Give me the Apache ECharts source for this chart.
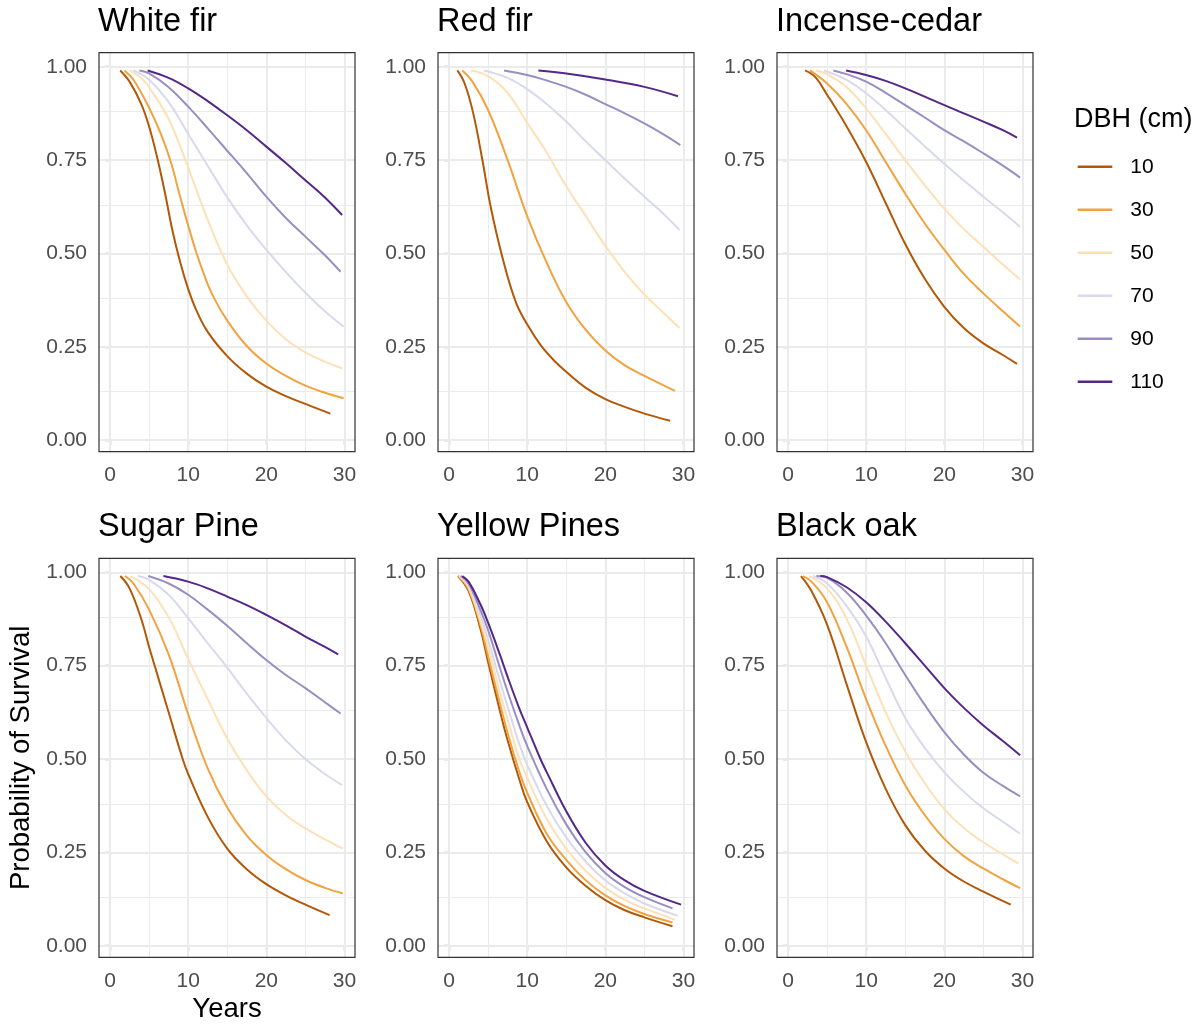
<!DOCTYPE html>
<html><head><meta charset="utf-8">
<script src="https://cdn.jsdelivr.net/npm/echarts@6/dist/echarts.min.js"></script>
<style>html,body{margin:0;padding:0;background:#fff}#c{width:1199px;height:1025px}</style>
</head><body><div id="c"></div>
<script>
// ---------------- data ----------------
const species = ['White fir', 'Red fir', 'Incense-cedar', 'Sugar Pine', 'Yellow Pines', 'Black oak'];
const dbhLabels = ['10', '30', '50', '70', '90', '110'];
const palette = ['#b35806', '#f1a340', '#fee0b6', '#d8daeb', '#998ec3', '#542788'];
const xTicks = [0, 10, 20, 30];
const yTicks = [0, 0.25, 0.5, 0.75, 1];
const xMinor = [5, 15, 25];
const yMinor = [0.125, 0.375, 0.625, 0.875];

// White fir  [years, survival]
const wf10 = [[1.3,0.99],[2.5,0.96],[4,0.90],[5,0.84],[6,0.76],[7,0.665],[8,0.56],[9,0.475],[10,0.405],[11,0.35],[12.5,0.29],[15,0.225],[17.5,0.178],[20,0.143],[22.5,0.118],[25,0.097],[28.2,0.071]];
const wf30 = [[1.85,0.99],[3,0.965],[5,0.89],[6.5,0.82],[7.7,0.75],[9,0.65],[10,0.575],[11,0.505],[12,0.445],[13.2,0.385],[15,0.32],[17.5,0.252],[20,0.205],[22.5,0.172],[25,0.146],[27.5,0.127],[29.9,0.112]];
const wf50 = [[2.55,0.99],[4,0.97],[5,0.945],[7.5,0.86],[10,0.73],[12.5,0.59],[15,0.47],[17.5,0.385],[20,0.32],[22.5,0.27],[25,0.235],[27.5,0.21],[29.7,0.192]];
const wf70 = [[3,0.99],[5,0.965],[7.5,0.905],[10,0.82],[12.5,0.735],[15,0.65],[17.5,0.575],[20,0.51],[22.5,0.45],[25,0.395],[27.5,0.345],[29.9,0.304]];
const wf90 = [[3.76,0.99],[5,0.982],[7.5,0.945],[10,0.893],[12.5,0.835],[15,0.775],[17.5,0.715],[20,0.652],[22.5,0.595],[25,0.545],[27.5,0.495],[29.5,0.451]];
const wf110 = [[4.82,0.99],[7.5,0.97],[10,0.942],[12.5,0.908],[15,0.87],[17.5,0.83],[20,0.786],[22.5,0.742],[25,0.696],[27.5,0.65],[29.7,0.603]];

// Red fir
const rf10 = [[1.07,0.99],[2,0.955],[3.1,0.875],[4.27,0.75],[5.33,0.625],[6.83,0.49],[8.54,0.37],[10,0.31],[11.7,0.255],[13.5,0.212],[15,0.183],[17.5,0.14],[20,0.11],[22.5,0.089],[25,0.071],[28.3,0.052]];
const rf30 = [[1.7,0.99],[3,0.96],[5,0.884],[7.5,0.75],[10,0.60],[12.5,0.475],[15,0.37],[17.5,0.295],[20,0.24],[22.5,0.20],[25,0.172],[28.9,0.132]];
const rf50 = [[2.77,0.99],[5,0.975],[7.5,0.93],[10,0.85],[12.5,0.77],[15,0.68],[17.5,0.60],[20,0.52],[22.5,0.45],[25,0.39],[27.5,0.34],[29.5,0.30]];
const rf70 = [[4.48,0.99],[7.5,0.97],[10,0.94],[12.5,0.90],[15,0.853],[17.5,0.80],[20,0.75],[22.5,0.70],[25,0.652],[27.5,0.605],[29.5,0.5625]];
const rf90 = [[7.04,0.99],[10,0.978],[12.5,0.963],[15,0.946],[17.5,0.925],[20,0.90],[22.5,0.875],[25,0.848],[27.5,0.818],[29.6,0.79]];
const rf110 = [[11.44,0.99],[15,0.982],[20,0.966],[25,0.946],[29.3,0.921]];

// Incense-cedar
const ic10 = [[2.18,0.99],[3.5,0.972],[5,0.925],[7.5,0.84],[10,0.745],[12.5,0.635],[15,0.525],[17.5,0.432],[20,0.357],[22.5,0.30],[25,0.259],[27.5,0.228],[29.3,0.204]];
const ic30 = [[2.8,0.99],[5,0.955],[7.5,0.90],[10,0.83],[12.5,0.745],[15,0.66],[17.5,0.58],[20,0.51],[22.5,0.445],[25,0.393],[27.5,0.345],[29.7,0.304]];
const ic50 = [[3.6,0.99],[5,0.98],[7.5,0.945],[10,0.888],[12.5,0.82],[15,0.75],[17.5,0.683],[20,0.62],[22.5,0.565],[25,0.518],[27.5,0.47],[29.7,0.43]];
const ic70 = [[4.6,0.99],[7.5,0.965],[10,0.929],[12.5,0.884],[15,0.835],[17.5,0.787],[20,0.74],[22.5,0.695],[25,0.652],[27.5,0.61],[29.7,0.571]];
const ic90 = [[5.8,0.99],[7.5,0.98],[10,0.96],[12.5,0.93],[15,0.897],[17.5,0.864],[20,0.83],[22.5,0.80],[25,0.768],[27.5,0.735],[29.7,0.703]];
const ic110 = [[7.43,0.99],[10,0.978],[12.5,0.962],[15,0.942],[17.5,0.92],[20,0.897],[22.5,0.875],[25,0.853],[27.5,0.83],[29.3,0.81]];

// Sugar Pine
const sp10 = [[1.32,0.99],[2.5,0.957],[4,0.875],[5,0.80],[6,0.73],[7.5,0.625],[9.3,0.5],[10,0.46],[12.5,0.345],[15,0.26],[17.5,0.205],[20,0.165],[22.5,0.135],[25,0.11],[28.1,0.082]];
const sp30 = [[1.92,0.99],[3,0.97],[5,0.90],[7.5,0.78],[10,0.62],[12.5,0.475],[15,0.37],[17.5,0.295],[20,0.243],[22.5,0.205],[25,0.176],[27.5,0.155],[29.8,0.14]];
const sp50 = [[2.6,0.99],[5,0.955],[7.5,0.88],[10,0.768],[12.5,0.66],[15,0.555],[17.5,0.47],[20,0.40],[22.5,0.35],[25,0.314],[27.5,0.285],[29.8,0.26]];
const sp70 = [[3.54,0.99],[5,0.98],[7.5,0.94],[10,0.877],[12.5,0.81],[15,0.745],[17.5,0.675],[20,0.61],[22.5,0.55],[25,0.50],[27.5,0.46],[29.7,0.43]];
const sp90 = [[4.9,0.99],[7.5,0.97],[10,0.94],[12.5,0.90],[15,0.857],[17.5,0.81],[20,0.765],[22.5,0.725],[25,0.69],[27.5,0.652],[29.5,0.622]];
const sp110 = [[6.83,0.99],[10,0.975],[12.5,0.957],[15,0.935],[17.5,0.912],[20,0.886],[22.5,0.858],[25,0.828],[27.5,0.80],[29.2,0.78]];

// Yellow Pines
const yp10 = [[1.15,0.99],[2.5,0.95],[4,0.85],[5,0.76],[6.5,0.63],[7.5,0.55],[9,0.445],[10,0.385],[12.5,0.28],[15,0.21],[17.5,0.16],[20,0.122],[22.5,0.095],[25,0.076],[28.6,0.052]];
const yp30 = [[1.2,0.99],[2.5,0.955],[4,0.86],[5,0.775],[6.5,0.65],[7.5,0.57],[9,0.465],[10,0.41],[12.5,0.30],[15,0.23],[17.5,0.175],[20,0.135],[22.5,0.106],[25,0.085],[28.6,0.062]];
const yp50 = [[1.3,0.99],[2.5,0.96],[4,0.87],[5,0.80],[6.5,0.68],[7.5,0.605],[9,0.50],[10,0.45],[12.5,0.34],[15,0.26],[17.5,0.20],[20,0.155],[22.5,0.123],[25,0.10],[28.9,0.07]];
const yp70 = [[1.4,0.99],[2.5,0.965],[4,0.885],[5,0.82],[6.5,0.71],[7.5,0.64],[9,0.54],[10,0.485],[12.5,0.375],[15,0.29],[17.5,0.225],[20,0.175],[22.5,0.14],[25,0.113],[29.3,0.08]];
const yp90 = [[1.5,0.99],[2.5,0.97],[4,0.90],[5,0.845],[6.5,0.745],[7.5,0.68],[9,0.59],[10,0.535],[12.5,0.42],[15,0.325],[17.5,0.25],[20,0.195],[22.5,0.157],[25,0.13],[28.6,0.10]];
const yp110 = [[1.7,0.99],[2.5,0.975],[4,0.915],[5,0.865],[6.5,0.78],[7.5,0.72],[9,0.635],[10,0.585],[11.7,0.50],[12.5,0.465],[15,0.36],[17.5,0.275],[20,0.215],[22.5,0.175],[25,0.147],[29.7,0.11]];

// Black oak
const bo10 = [[1.66,0.99],[3,0.95],[5,0.86],[7.5,0.70],[10,0.545],[12.5,0.42],[15,0.323],[17.5,0.255],[20,0.207],[22.5,0.172],[25,0.145],[28.5,0.11]];
const bo30 = [[1.92,0.99],[3,0.975],[5,0.92],[7.5,0.80],[10,0.66],[12.5,0.535],[15,0.43],[17.5,0.35],[20,0.286],[22.5,0.24],[25,0.207],[27.5,0.178],[29.7,0.154]];
const bo50 = [[2.65,0.99],[5,0.957],[7.5,0.875],[10,0.75],[12.5,0.625],[15,0.52],[17.5,0.435],[20,0.366],[22.5,0.315],[25,0.277],[27.5,0.245],[29.5,0.22]];
const bo70 = [[3.2,0.99],[5,0.97],[7.5,0.91],[10,0.828],[12.5,0.717],[15,0.61],[17.5,0.53],[20,0.465],[22.5,0.412],[25,0.368],[27.5,0.332],[29.7,0.30]];
const bo90 = [[3.63,0.99],[5,0.985],[7.5,0.946],[10,0.884],[12.5,0.81],[15,0.725],[17.5,0.645],[20,0.572],[22.5,0.512],[25,0.463],[27.5,0.428],[29.7,0.40]];
const bo110 = [[4.14,0.99],[5,0.987],[7.5,0.96],[10,0.92],[12.5,0.868],[15,0.81],[17.5,0.75],[20,0.69],[22.5,0.637],[25,0.59],[27.5,0.548],[29.7,0.51]];

const panelCurves = [
  [wf10, wf30, wf50, wf70, wf90, wf110],
  [rf10, rf30, rf50, rf70, rf90, rf110],
  [ic10, ic30, ic50, ic70, ic90, ic110],
  [sp10, sp30, sp50, sp70, sp90, sp110],
  [yp10, yp30, yp50, yp70, yp90, yp110],
  [bo10, bo30, bo50, bo70, bo90, bo110]
];

// ---------------- layout ----------------
const FONT = '"Liberation Sans", Arial, Helvetica, sans-serif';
const colLeft = [99, 438, 777];
const rowTop = [52.7, 558.3];
const PW = 256, PH = 399;
const X_MIN = -1.41, X_MAX = 31.35;
const Y_MIN = -0.031, Y_MAX = 1.0375;

const grids = [], xAxes = [], yAxes = [], series = [], graphics = [];

species.forEach((sp, i) => {
  const c = i % 3, r = Math.floor(i / 3);
  grids.push({ left: colLeft[c], top: rowTop[r], width: PW, height: PH, show: false, containLabel: false, outerBoundsMode: 'none' });
  xAxes.push({
    gridIndex: i, type: 'value', min: X_MIN, max: X_MAX,
    axisLine: { show: false }, splitLine: { show: false },
    axisTick: { show: true, customValues: xTicks, length: 5, lineStyle: { color: '#333333', width: 1.2 } },
    axisLabel: { customValues: xTicks, color: '#4d4d4d', fontSize: 21, margin: 13, fontFamily: FONT }
  });
  yAxes.push({
    gridIndex: i, type: 'value', min: Y_MIN, max: Y_MAX,
    axisLine: { show: false }, splitLine: { show: false },
    axisTick: { show: true, customValues: yTicks, length: 5, lineStyle: { color: '#333333', width: 1.2 } },
    axisLabel: { customValues: yTicks, color: '#4d4d4d', fontSize: 21, margin: 12, fontFamily: FONT,
      formatter: v => Number(v).toFixed(2) }
  });
  // panel grid lines (major + minor), drawn beneath the curves
  const ml = [];
  yTicks.forEach(v => ml.push({ yAxis: v, lineStyle: { color: '#ebebeb', width: 2, type: 'solid' } }));
  yMinor.forEach(v => ml.push({ yAxis: v, lineStyle: { color: '#ebebeb', width: 1, type: 'solid' } }));
  xTicks.forEach(v => ml.push({ xAxis: v, lineStyle: { color: '#ebebeb', width: 2, type: 'solid' } }));
  xMinor.forEach(v => ml.push({ xAxis: v, lineStyle: { color: '#ebebeb', width: 1, type: 'solid' } }));
  series.push({
    type: 'line', name: '__grid' + i, xAxisIndex: i, yAxisIndex: i, data: [], z: 1, silent: true,
    markLine: { z: 1, silent: true, symbol: ['none', 'none'], animation: false, label: { show: false },
      emphasis: { disabled: true }, data: ml }
  });
  panelCurves[i].forEach((curve, k) => {
    series.push({
      type: 'line', name: dbhLabels[k], xAxisIndex: i, yAxisIndex: i, data: curve,
      smooth: 0.4, symbol: 'none', showSymbol: false, silent: true, z: 10 + k,
      lineStyle: { width: 2, color: palette[k] }, itemStyle: { color: palette[k] },
      emphasis: { disabled: true }, animation: false
    });
  });
  // panel border
  graphics.push({ type: 'rect', z: 50, silent: true,
    shape: { x: colLeft[c], y: rowTop[r], width: PW, height: PH },
    style: { fill: 'none', stroke: '#333333', lineWidth: 1.2 } });
  // panel title
  graphics.push({ type: 'text', z: 50, silent: true, x: colLeft[c] - 1, y: rowTop[r] - 31,
    style: { text: sp, font: '32.5px ' + FONT, fill: '#000000', align: 'left', verticalAlign: 'middle',
      textAlign: 'left', textVerticalAlign: 'middle' } });
});

// axis titles and legend title
graphics.push({ type: 'text', z: 50, silent: true, x: colLeft[0] + PW / 2, y: 1009.5,
  style: { text: 'Years', font: '27.5px ' + FONT, fill: '#000000', align: 'center', verticalAlign: 'middle',
    textAlign: 'center', textVerticalAlign: 'middle' } });
graphics.push({ type: 'text', z: 50, silent: true, x: 21, y: rowTop[1] + PH / 2, rotation: Math.PI / 2,
  style: { text: 'Probability of Survival', font: '27.5px ' + FONT, fill: '#000000', align: 'center', verticalAlign: 'middle',
    textAlign: 'center', textVerticalAlign: 'middle' } });
graphics.push({ type: 'text', z: 50, silent: true, x: 1074, y: 119.5,
  style: { text: 'DBH (cm)', font: '27px ' + FONT, fill: '#000000', align: 'left', verticalAlign: 'middle',
    textAlign: 'left', textVerticalAlign: 'middle' } });

const chart = echarts.init(document.getElementById('c'), null, { renderer: 'canvas' });
chart.setOption({
  backgroundColor: '#ffffff',
  animation: false,
  grid: grids, xAxis: xAxes, yAxis: yAxes, series: series,
  legend: {
    data: dbhLabels, orient: 'vertical', left: 1077.7, top: 156.3,
    icon: 'path://M0,0 L34.6,0 L34.6,2.6 L0,2.6 Z', symbolKeepAspect: true,
    itemWidth: 34.6, itemHeight: 20, itemGap: 22.0, selectedMode: false,
    textStyle: { fontSize: 21, color: '#000000', lineHeight: 20, fontFamily: FONT, padding: [0, 0, 0, 13] },
    padding: 0
  },
  graphic: graphics
});
</script></body></html>
